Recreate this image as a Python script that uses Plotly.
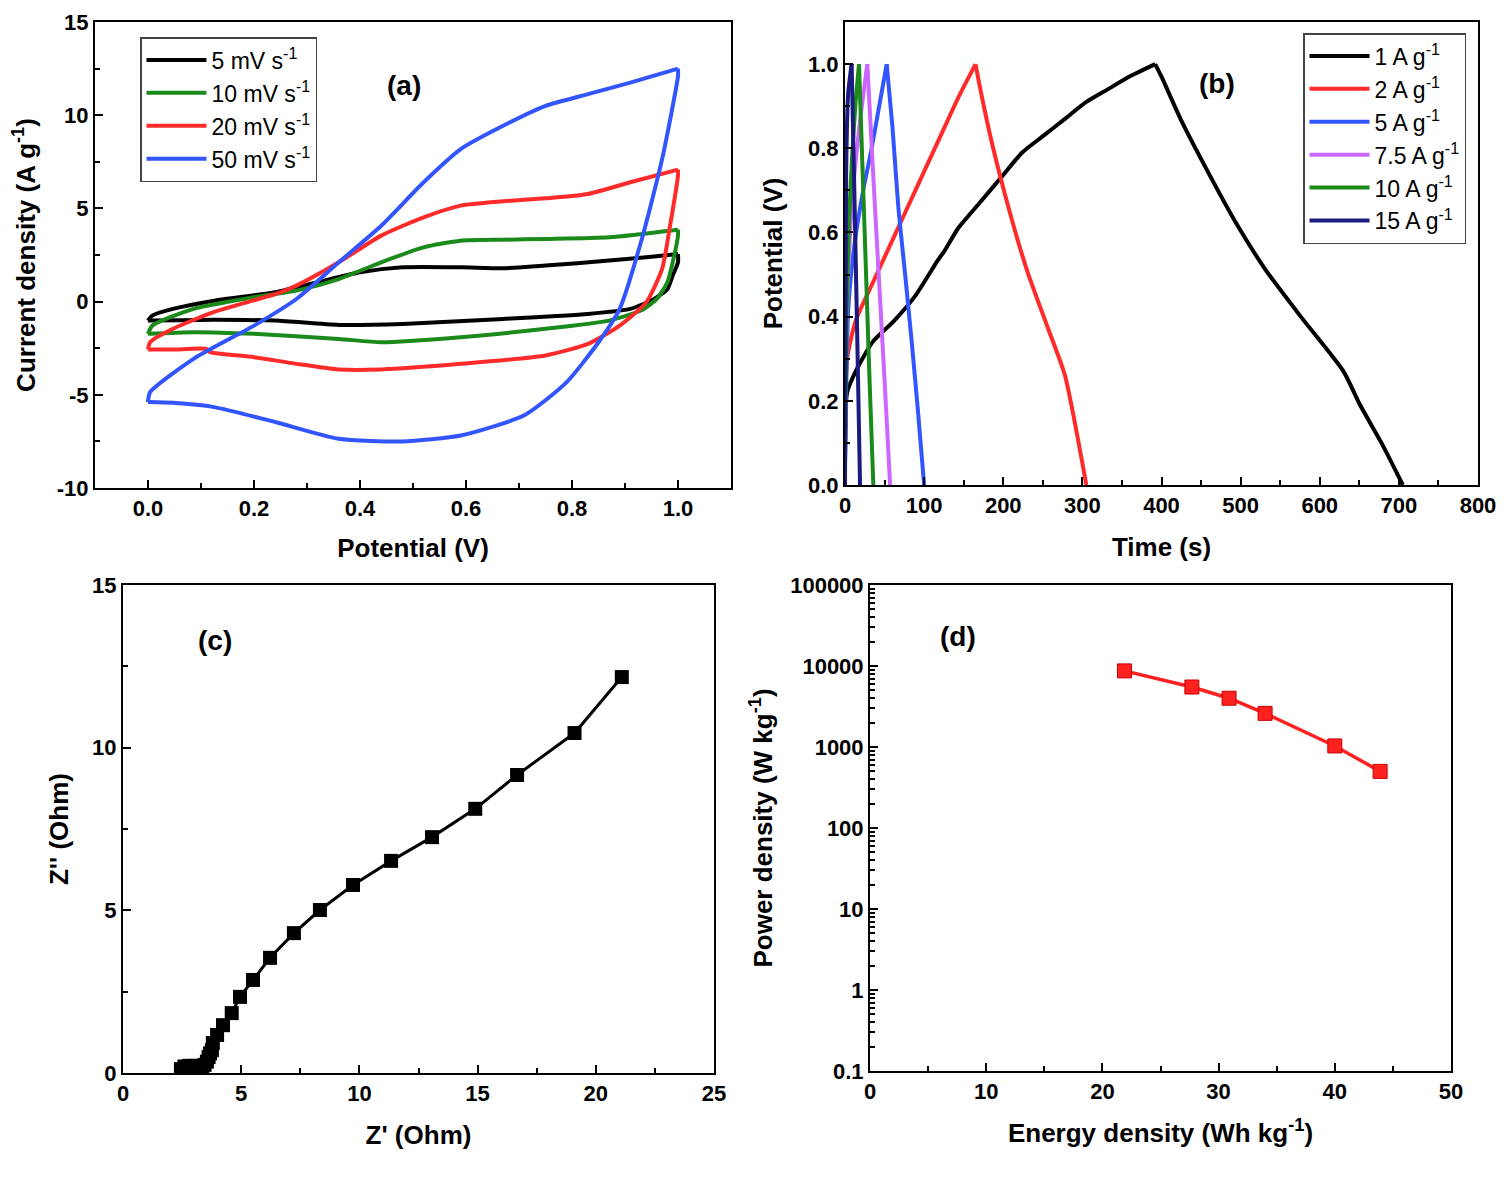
import plotly.graph_objects as go

# ---------------- Panel (a): CV curves ----------------
cv_labels = ["5 mV s<sup>-1</sup>", "10 mV s<sup>-1</sup>", "20 mV s<sup>-1</sup>", "50 mV s<sup>-1</sup>"]
cv5_x = [0, 0.008, 0.047, 0.125, 0.24, 0.32, 0.40, 0.48, 0.59, 0.67, 0.75, 0.87, 0.95, 1.0, 1.0, 0.99, 0.98, 0.955, 0.91, 0.83, 0.67, 0.48, 0.36, 0.24, 0.125, 0.0, 0.0]
cv5_y = [-1.02, -0.75, -0.39, 0.05, 0.5, 1.04, 1.57, 1.84, 1.84, 1.79, 1.93, 2.2, 2.4, 2.55, 2.1, 1.4, 0.68, 0.14, -0.39, -0.66, -0.93, -1.2, -1.25, -1.02, -0.98, -1.02, -1.02]
cv10_x = [0, 0.008, 0.086, 0.2, 0.28, 0.36, 0.44, 0.52, 0.59, 0.67, 0.75, 0.87, 1.0, 1.0, 0.99, 0.98, 0.96, 0.93, 0.87, 0.75, 0.59, 0.44, 0.36, 0.2, 0.086, 0]
cv10_y = [-1.73, -1.29, -0.39, 0.23, 0.59, 1.21, 2.11, 2.91, 3.27, 3.32, 3.36, 3.45, 3.86, 3.54, 2.11, 1.04, 0.14, -0.48, -1.02, -1.46, -1.91, -2.18, -2.0, -1.73, -1.64, -1.73]
cv20_x = [0, 0.004, 0.047, 0.125, 0.24, 0.28, 0.36, 0.44, 0.52, 0.59, 0.67, 0.75, 0.83, 0.91, 1.0, 1.0, 0.985, 0.97, 0.94, 0.89, 0.83, 0.75, 0.59, 0.44, 0.36, 0.28, 0.2, 0.117, 0.11, 0.047, 0]
cv20_y = [-2.57, -2.18, -1.46, -0.55, 0.4, 0.86, 2.11, 3.54, 4.52, 5.15, 5.38, 5.54, 5.77, 6.4, 7.08, 6.76, 4.08, 1.75, -0.04, -1.29, -2.27, -2.89, -3.34, -3.64, -3.64, -3.34, -2.98, -2.71, -2.54, -2.57, -2.57]
cv50_x = [0, 0.004, 0.086, 0.2, 0.28, 0.36, 0.44, 0.52, 0.59, 0.67, 0.75, 0.83, 0.91, 1.0, 1.0, 0.97, 0.93, 0.89, 0.85, 0.79, 0.71, 0.59, 0.48, 0.36, 0.24, 0.125, 0.047, 0]
cv50_y = [-5.39, -4.86, -3.07, -1.29, 0.14, 2.11, 4.07, 6.4, 8.18, 9.43, 10.5, 11.13, 11.75, 12.5, 12.1, 7.64, 3.18, -0.39, -2.18, -4.32, -6.1, -7.18, -7.5, -7.36, -6.46, -5.66, -5.43, -5.39]
cv_colors = ["#000000", "#1a8a1a", "#ff2a2a", "#3355ff"]
cv_yticks = [-10, -5, 0, 5, 10, 15]
cv_yticktext = ["-10", "-5", "0", "5", "10", "15"]

# ---------------- Panel (b): GCD curves ----------------
gcd_labels = ["1 A g<sup>-1</sup>", "2 A g<sup>-1</sup>", "5 A g<sup>-1</sup>", "7.5 A g<sup>-1</sup>", "10 A g<sup>-1</sup>", "15 A g<sup>-1</sup>"]
g1_t = [0, 2.7, 13.5, 35, 62, 89, 116, 127, 143, 170, 197, 224, 251, 278, 305, 332, 359, 392, 400, 424, 457, 495, 532, 576, 630, 651, 678, 705]
g1_v = [0.08, 0.22, 0.27, 0.34, 0.39, 0.45, 0.53, 0.56, 0.61, 0.67, 0.73, 0.79, 0.83, 0.87, 0.91, 0.94, 0.97, 1.0, 0.97, 0.87, 0.75, 0.62, 0.51, 0.40, 0.27, 0.19, 0.10, 0]
g2_t = [0, 2.7, 13.5, 35, 62, 89, 116, 143, 165, 170, 186, 208, 230, 257, 278, 305]
g2_v = [0.04, 0.30, 0.39, 0.48, 0.59, 0.70, 0.81, 0.92, 1.0, 0.95, 0.81, 0.65, 0.51, 0.37, 0.26, 0]
g5_t = [0, 4.2, 12.6, 24, 33.7, 52.7, 60, 67.4, 76, 84.3, 92, 100]
g5_v = [0.05, 0.42, 0.58, 0.71, 0.80, 1.0, 0.85, 0.66, 0.50, 0.34, 0.18, 0]
g75_t = [0, 3, 10, 20, 28.2, 35, 42, 50, 57]
g75_v = [0.05, 0.45, 0.70, 0.88, 1.0, 0.76, 0.52, 0.25, 0]
g10_t = [0, 2, 5, 9, 13, 17.7, 22, 27, 31, 35.8]
g10_v = [0.05, 0.40, 0.62, 0.78, 0.90, 1.0, 0.76, 0.48, 0.25, 0]
g15_t = [0, 0.8, 1.5, 4, 8.4, 12, 16, 19]
g15_v = [0.0, 0.40, 0.75, 0.93, 1.0, 0.68, 0.30, 0]
gcd_colors = ["#000000", "#ff2a2a", "#3355ff", "#cc66ff", "#1a8a1a", "#1a1a80"]

# ---------------- Panel (c): Nyquist ----------------
z_re = [2.45, 2.6, 2.8, 3.0, 3.2, 3.35, 3.45, 3.55, 3.62, 3.68, 3.76, 3.8, 3.98, 4.23, 4.6, 4.95, 5.5, 6.22, 7.23, 8.33, 9.73, 11.34, 13.07, 14.9, 16.67, 19.1, 21.1]
z_im = [0.12, 0.2, 0.22, 0.22, 0.2, 0.15, 0.25, 0.35, 0.49, 0.6, 0.7, 0.92, 1.17, 1.47, 1.84, 2.34, 2.86, 3.54, 4.30, 5.01, 5.78, 6.52, 7.25, 8.12, 9.16, 10.45, 12.17]

# ---------------- Panel (d): Ragone ----------------
energy = [21.9, 27.7, 30.9, 34.0, 40.0, 43.9]
power = [8700, 5500, 4000, 2600, 1030, 500]
log_tickvals = [0.1, 1, 10, 100, 1000, 10000, 100000]
log_ticktext = ["0.1", "1", "10", "100", "1000", "10000", "100000"]

# page offset (browser body margin) and figure size
OFF = 8
W, H = 1510 - 2 * OFF, 1186 - 2 * OFF
FONT = "Liberation Sans"

fig = go.Figure()


def add_branches(xs, ys, lab, col, xa, ya, leg):
    """Draw a curve as two smoothed branches split at its maximum (sharp vertex kept)."""
    k = ys.index(max(ys))
    for i, (bx, by) in enumerate([(xs[:k + 1], ys[:k + 1]), (xs[k:], ys[k:])]):
        fig.add_trace(go.Scatter(x=bx, y=by, mode="lines", name=lab, legendgroup=lab + xa,
                                 showlegend=(i == 0),
                                 line=dict(color=col, width=4, shape="spline", smoothing=0.6),
                                 xaxis=xa, yaxis=ya, legend=leg))


for xs, ys, lab, col in zip([cv5_x, cv10_x, cv20_x, cv50_x], [cv5_y, cv10_y, cv20_y, cv50_y], cv_labels, cv_colors):
    add_branches(xs, ys, lab, col, "x", "y", "legend")

for ts, vs, lab, col in zip([g1_t, g2_t, g5_t, g75_t, g10_t, g15_t], [g1_v, g2_v, g5_v, g75_v, g10_v, g15_v], gcd_labels, gcd_colors):
    add_branches(ts, vs, lab, col, "x2", "y2", "legend2")

fig.add_trace(go.Scatter(x=z_re, y=z_im, mode="lines+markers", showlegend=False,
                         line=dict(color="black", width=3),
                         marker=dict(symbol="square", size=14, color="black"),
                         xaxis="x3", yaxis="y3"))

fig.add_trace(go.Scatter(x=energy, y=power, mode="lines+markers", showlegend=False,
                         line=dict(color="#ff2020", width=3.5),
                         marker=dict(symbol="square", size=14, color="#ff2020", line=dict(color="#cc0000", width=1)),
                         xaxis="x4", yaxis="y4"))


def px_x(p):
    return (p - OFF) / W


def px_y(p):
    return 1 - (p - OFF) / H


def px_dom_x(a, b):
    return [px_x(a), px_x(b)]


def px_dom_y(top, bottom):
    return [px_y(bottom), px_y(top)]


tickfont = dict(family=FONT, size=22, color="black", weight="bold")
titlefont = dict(family=FONT, size=26, color="black", weight="bold")


def ax(domain, rng, dtick, minor_dtick, title, anchor, standoff=8, **kw):
    d = dict(domain=domain, range=rng, dtick=dtick, anchor=anchor, automargin=False,
             showline=True, linewidth=2, linecolor="black", mirror=True,
             ticks="inside", ticklen=8, tickwidth=2, tickcolor="black",
             showgrid=False, zeroline=False, tickfont=tickfont,
             title=dict(text=title, font=titlefont, standoff=standoff))
    if minor_dtick is not None:
        d["minor"] = dict(ticks="inside", ticklen=5, tickwidth=2, tickcolor="black", dtick=minor_dtick, showgrid=False)
    d.update(kw)
    return d


minor_log = [m * 10 ** e for e in range(-1, 5) for m in range(2, 10)]

fig.update_layout(
    width=W, height=H,
    margin=dict(l=0, r=0, t=0, b=0),
    paper_bgcolor="white", plot_bgcolor="white",
    font=dict(family=FONT, color="black"),
    xaxis=ax(px_dom_x(95, 731), [-0.1, 1.1], 0.2, 0.1, "Potential (V)", "y", standoff=18, tickformat=".1f",
             tickvals=[0, 0.2, 0.4, 0.6, 0.8, 1.0]),
    yaxis=ax(px_dom_y(22, 488), [-10, 15], 5, 2.5, "Current density (A g<sup>-1</sup>)", "x", standoff=16,
             tickvals=cv_yticks, ticktext=cv_yticktext),
    xaxis2=ax(px_dom_x(845, 1478), [0, 800], 100, 50, "Time (s)", "y2", standoff=20),
    yaxis2=ax(px_dom_y(22, 485), [0, 1.1], 0.2, 0.1, "Potential (V)", "x2", standoff=18, tickformat=".1f",
              tickvals=[0, 0.2, 0.4, 0.6, 0.8, 1.0]),
    xaxis3=ax(px_dom_x(123, 714), [0, 25], 5, 2.5, "Z' (Ohm)", "y3", standoff=20),
    yaxis3=ax(px_dom_y(585, 1073), [0, 15], 5, 2.5, "Z'' (Ohm)", "x3", standoff=16),
    xaxis4=ax(px_dom_x(870, 1451), [0, 50], 10, 5, "Energy density (Wh kg<sup>-1</sup>)", "y4", standoff=20),
    yaxis4=ax(px_dom_y(585, 1071), [-1, 5], None, None, "Power density (W kg<sup>-1</sup>)", "x4", standoff=10,
              type="log", tickvals=log_tickvals, ticktext=log_ticktext,
              minor=dict(ticks="inside", ticklen=5, tickwidth=1.5, tickcolor="black", tickvals=minor_log, showgrid=False)),
    legend=dict(x=px_x(140), y=px_y(37), xanchor="left", yanchor="top",
                bordercolor="#444444", borderwidth=1.5, bgcolor="white",
                font=dict(family=FONT, size=23, color="black"), tracegroupgap=0, itemwidth=60),
    legend2=dict(x=px_x(1303), y=px_y(33), xanchor="left", yanchor="top",
                 bordercolor="#444444", borderwidth=1.5, bgcolor="white",
                 font=dict(family=FONT, size=23, color="black"), tracegroupgap=0, itemwidth=60),
    showlegend=True,
)

for txt, xp, yp in [("(a)", 385, 68), ("(b)", 1237, 66), ("(c)", 196, 640), ("(d)", 958, 636)]:
    fig.add_annotation(text=txt, x=px_x(xp), y=px_y(yp), xref="paper", yref="paper",
                       showarrow=False, font=dict(family=FONT, size=28, color="black", weight="bold"))

fig.write_html("out.html")
